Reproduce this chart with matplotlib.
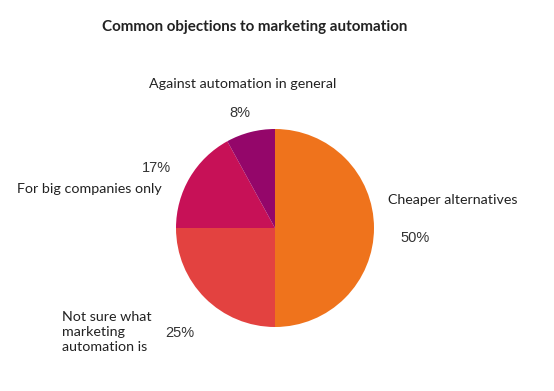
import matplotlib.pyplot as plt

# data
labels = ['Cheaper alternatives', 'Not sure what\nmarketing\nautomation is',
          'For big companies only', 'Against automation in general']
values = [50, 25, 17, 8]
colors = ['#EF731C', '#E34240', '#C71157', '#94066A']

# label anchors in pie-radius units (layout only)
label_pos = [(1.14, 0.28, 'left'), (-2.15, -1.05, 'left'),
             (-1.14, 0.39, 'right'), (-0.33, 1.455, 'center')]
pct_pos = [(1.41, -0.10), (-0.96, -1.06), (-1.20, 0.606), (-0.35, 1.162)]

fig = plt.figure(figsize=(5.54, 3.91), dpi=100)
ax = fig.add_axes([0, 0, 1, 1])
ax.pie(values, colors=colors, startangle=90, counterclock=False,
       radius=1.0, center=(0, 0), wedgeprops=dict(linewidth=0))
ax.set_aspect('auto')
ax.set_xlim(-275 / 99, (554 - 275) / 99)
ax.set_ylim((228 - 391) / 99, 228 / 99)
ax.axis('off')

for lab, (x, y, ha) in zip(labels, label_pos):
    ax.text(x, y, lab, ha=ha, va='center', fontsize=10.3, family='Lato',
            color='#222222', linespacing=1.3)
for v, (x, y) in zip(values, pct_pos):
    ax.text(x, y, f'{v}%', ha='center', va='center', fontsize=10.5,
            family='Liberation Sans', color='#333333')

fig.text(255 / 554, 1 - 27 / 391, 'Common objections to marketing automation',
         ha='center', va='center', fontsize=10.9, fontweight='bold',
         family='Lato', color='#222222')

fig.savefig('out.png', dpi=100)
